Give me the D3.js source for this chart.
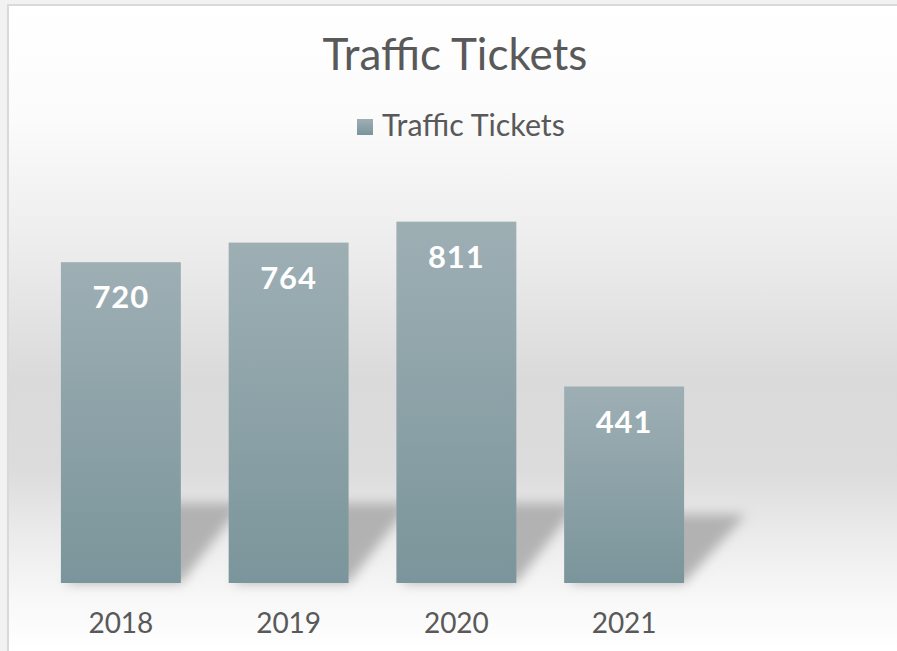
<!DOCTYPE html>
<html>
<head>
<meta charset="utf-8">
<script src="https://cdn.jsdelivr.net/npm/d3@7"></script>
<style>
  html, body { margin: 0; padding: 0; background: #f2f2f2; overflow: hidden; }
  svg { display: block; }
</style>
</head>
<body>
<svg id="chart"></svg>
<script>
// data
const years = ['2018', '2019', '2020', '2021'];
const tickets = [720, 764, 811, 441];
const seriesName = 'Traffic Tickets';

const width = 897, height = 651;
const baseY = 583;

const svg = d3.select('#chart')
  .attr('width', width)
  .attr('height', height);

const defs = svg.append('defs');

// background: white top, gray middle, lighter floor
const bg = defs.append('linearGradient')
  .attr('id', 'bg')
  .attr('gradientUnits', 'userSpaceOnUse')
  .attr('x1', 0).attr('y1', 5).attr('x2', 0).attr('y2', 651);
[[0, '#ffffff'], [0.18, '#fbfbfb'], [0.38, '#ececec'], [0.58, '#dadada'], [0.72, '#dcdcdc'], [0.82, '#ebebeb'], [0.92, '#f8f8f8'], [1, '#ffffff']]
  .forEach(s => bg.append('stop').attr('offset', s[0]).attr('stop-color', s[1]));

const barGrad = defs.append('linearGradient')
  .attr('id', 'bar').attr('x1', 0).attr('y1', 0).attr('x2', 0).attr('y2', 1);
barGrad.append('stop').attr('offset', 0).attr('stop-color', '#9eafb4');
barGrad.append('stop').attr('offset', 1).attr('stop-color', '#7a959b');

defs.append('filter').attr('id', 'blur')
  .attr('x', '-50%').attr('y', '-50%').attr('width', '200%').attr('height', '200%')
  .append('feGaussianBlur').attr('stdDeviation', 6);

svg.append('rect')
  .attr('x', 8).attr('y', 5)
  .attr('width', 1000).attr('height', 1000)
  .attr('fill', 'url(#bg)')
  .attr('stroke', '#d9d9d9')
  .attr('stroke-width', 2);

const x = d3.scaleBand()
  .domain(years)
  .range([37, 708])
  .paddingInner(0.285)
  .paddingOuter(0.1425);

const y = d3.scaleLinear()
  .domain([0, 900])
  .range([baseY, 182]);

const data = years.map((d, i) => ({ year: d, value: tickets[i] }));

// floor shadows
svg.append('g').attr('filter', 'url(#blur)')
  .selectAll('path')
  .data(data)
  .enter()
  .append('path')
  .attr('d', d => {
    const x0 = x(d.year), x1 = x0 + x.bandwidth();
    const h = Math.min(80, (baseY - y(d.value)) * 0.35);
    return `M${x0 + 4},${baseY} L${x1},${baseY} L${x1 + 62},${baseY - h} L${x0 + 62},${baseY - h} Z`;
  })
  .attr('fill', '#a8a8a8')
  .attr('opacity', 0.85);

svg.append('g')
  .selectAll('rect')
  .data(data)
  .enter()
  .append('rect')
  .attr('x', d => x(d.year))
  .attr('y', d => y(d.value))
  .attr('width', x.bandwidth())
  .attr('height', d => baseY - y(d.value))
  .attr('fill', 'url(#bar)');

svg.append('g')
  .selectAll('text')
  .data(data)
  .enter()
  .append('text')
  .attr('x', d => x(d.year) + x.bandwidth() / 2)
  .attr('y', d => y(d.value) + 46)
  .attr('text-anchor', 'middle')
  .style('font-family', 'Lato, sans-serif')
  .style('font-weight', 'bold')
  .style('font-size', '31px')
  .style('letter-spacing', '1px')
  .attr('fill', '#ffffff')
  .text(d => d.value);

// x axis labels
const xaxis = d3.axisBottom(x).tickSize(0).tickPadding(0);
const gx = svg.append('g')
  .attr('transform', `translate(0, ${baseY})`)
  .call(xaxis);
gx.select('.domain').remove();
gx.selectAll('text')
  .attr('dy', null)
  .attr('y', 50)
  .style('font-family', 'Lato, sans-serif')
  .style('font-size', '28px')
  .attr('fill', '#595959');

// fit text to measured width
function fitText(sel, target) {
  const w = sel.node().getComputedTextLength();
  const fs = parseFloat(sel.style('font-size'));
  sel.style('font-size', (fs * target / w) + 'px');
}

const title = svg.append('text')
  .attr('x', 455)
  .attr('y', 70)
  .attr('text-anchor', 'middle')
  .style('font-family', 'Lato, sans-serif')
  .style('font-size', '40px')
  .attr('fill', '#595959')
  .text(seriesName);
fitText(title, 265);

const legend = svg.append('g');
legend.append('rect')
  .attr('x', 357).attr('y', 119)
  .attr('width', 16).attr('height', 16)
  .attr('fill', 'url(#bar)');
const legText = legend.append('text')
  .attr('x', 382)
  .attr('y', 136)
  .style('font-family', 'Lato, sans-serif')
  .style('font-size', '27px')
  .attr('fill', '#595959')
  .text(seriesName);
fitText(legText, 183);
</script>
</body>
</html>
